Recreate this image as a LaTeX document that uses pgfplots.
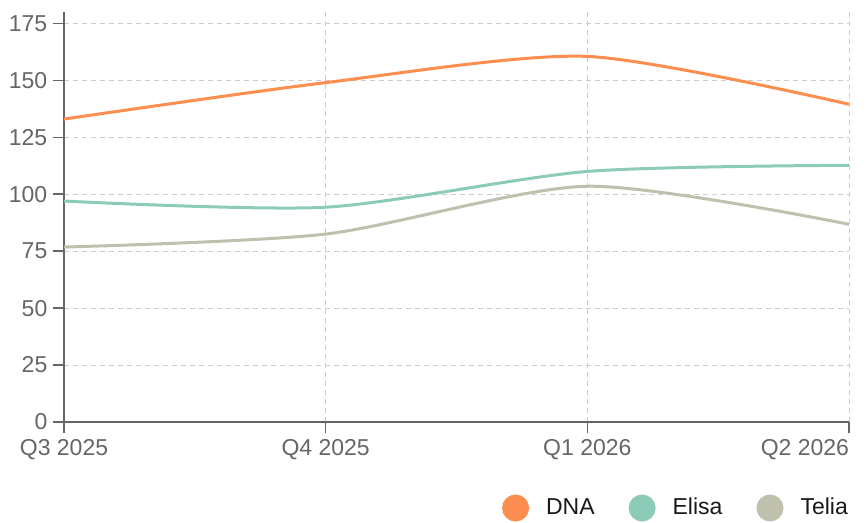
\documentclass[border=0pt]{standalone}
\usepackage{pgfplots}
\pgfplotsset{compat=1.18}
\usepackage{fontspec}
\setmainfont{Liberation Sans}
\definecolor{dna}{HTML}{FD8E4F}
\definecolor{elisa}{HTML}{8CCBB7}
\definecolor{telia}{HTML}{BFC1AE}
\definecolor{axisgray}{HTML}{666666}
\definecolor{gridgray}{HTML}{CCCCCC}
\begin{document}
\fontsize{23}{27}\selectfont
\begin{tikzpicture}
\useasboundingbox (-64pt,-100pt) rectangle (802pt,422pt);
\begin{axis}[
  scale only axis,
  width=785pt, height=410pt,
  xmin=0, xmax=3, ymin=0, ymax=180,
  axis x line*=bottom, axis y line*=left,
  axis line style={axisgray, line width=1.5pt, -},
  xtick={0,1,2,3},
  xticklabels={Q3 2025, Q4 2025, Q1 2026, \llap{Q2 2026}},
  ytick={0,25,50,75,100,125,150,175},
  tick style={axisgray, line width=1.5pt},
  tick align=outside,
  major tick length=11pt,
  grid=major,
  major grid style={gridgray, line width=1pt, dash pattern=on 5pt off 4pt},
  tick label style={text=axisgray, inner sep=2.5pt},
  xticklabel style={yshift=-4pt},
  yticklabel style={xshift=-3pt},
  /pgf/number format/assume math mode=true,
  legend style={at={(1,0)}, anchor=east, yshift=-86pt, xshift=-1pt, draw=none, inner sep=0pt,
    nodes={inner sep=0pt, text=black!90},
    /tikz/every even column/.append style={column sep=34pt}},
  legend columns=-1,
  legend image code/.code={\fill[#1] (0pt,0pt) circle (12pt); \path (-12pt,0pt) (29pt,0pt);},
  clip=false,
]
\addplot[dna, line width=3pt, smooth, tension=0.45] coordinates {(0,133) (1,149) (2,160.5) (3,139.5)};
\addlegendentry{DNA}
\addplot[elisa, line width=3pt, smooth, tension=0.45] coordinates {(0,97) (1,94.3) (2,110) (3,112.7)};
\addlegendentry{Elisa}
\addplot[telia, line width=3pt, smooth, tension=0.45] coordinates {(0,76.8) (1,82.5) (2,103.5) (3,86.8)};
\addlegendentry{Telia}
\end{axis}
\end{tikzpicture}
\end{document}
